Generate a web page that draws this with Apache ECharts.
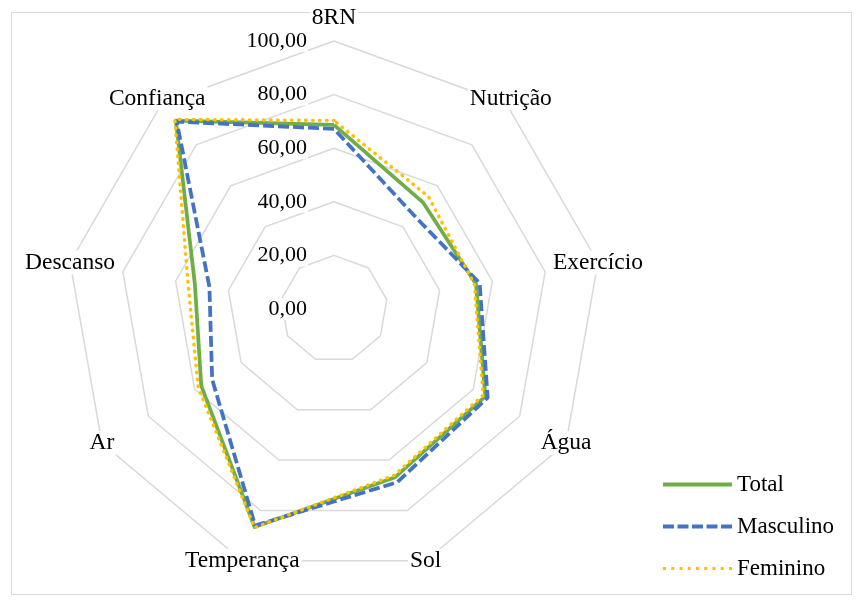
<!DOCTYPE html>
<html>
<head>
<meta charset="utf-8">
<script src="https://cdn.jsdelivr.net/npm/echarts@6.0.0/dist/echarts.min.js"></script>
<style>
html,body{margin:0;padding:0;background:#fff;}
#chart{width:858px;height:600px;}
</style>
</head>
<body>
<div id="chart"></div>
<script>
// Categories in clockwise order starting from the top
const categories = ['8RN', 'Nutrição', 'Exercício', 'Água', 'Sol', 'Temperança', 'Ar', 'Descanso', 'Confiança'];
const totalValues = [68.7, 51.8, 53.8, 65.2, 66.8, 86.6, 57.2, 52.7, 91.8];
const masculinoValues = [67.2, 46.0, 55.2, 66.2, 68.8, 86.0, 52.5, 47.2, 91.3];
const femininoValues = [70.3, 54.8, 53.2, 64.3, 66.0, 86.8, 58.5, 55.3, 92.4];
const seriesNames = ['Total', 'Masculino', 'Feminino'];
const axisMin = 0;
const axisMax = 100;
const axisSplits = 5;

const FONT = 'Liberation Serif';
const colors = { Total: '#70AD47', Masculino: '#4472C4', Feminino: '#FFC000' };

// ECharts radar goes counter-clockwise; reorder so the picture reads clockwise
const n = categories.length;
const order = categories.map((_, i) => (n - i) % n);
const reorder = arr => order.map(i => arr[i]);

const indicator = order.map(i => {
  const ind = { name: categories[i], min: axisMin, max: axisMax };
  if (i === 0) {
    ind.nameGap = 19;
    ind.axisLabel = { show: true };
  }
  if (i === 1 || i === 8) ind.nameGap = 7;
  return ind;
});

function solidIcon() { return 'path://M0,0H69V4H0Z'; }
function dashedIcon() {
  let p = 'path://';
  for (let k = 0; k < 5; k++) { const x = k * 14.5; p += 'M' + x + ',0H' + (x + 11) + 'V4H' + x + 'Z'; }
  return p;
}
function dottedIcon() {
  let p = 'path://';
  for (let k = 0; k < 9; k++) { const x = k * 8.25; p += 'M' + x + ',0.5H' + (x + 3) + 'V3.5H' + x + 'Z'; }
  p += 'M0,0H0.01V4H0Z';
  return p;
}

const chart = echarts.init(document.getElementById('chart'), null, { renderer: 'canvas' });
chart.setOption({
  animation: false,
  backgroundColor: '#fff',
  graphic: [{
    type: 'rect', left: 9, top: 10, silent: true,
    shape: { width: 840, height: 582 },
    style: { fill: 'none', stroke: '#d9d9d9', lineWidth: 1 }
  }],
  legend: {
    orient: 'vertical', left: 663, top: 473, padding: 0,
    itemWidth: 69, itemHeight: 4, itemGap: 19,
    itemStyle: { borderWidth: 0 },
    textStyle: { fontFamily: FONT, fontSize: 23, color: '#000', lineHeight: 23 },
    data: [
      { name: seriesNames[0], icon: solidIcon() },
      { name: seriesNames[1], icon: dashedIcon() },
      { name: seriesNames[2], icon: dottedIcon() }
    ]
  },
  radar: {
    center: [334, 309],
    radius: 268,
    startAngle: 90,
    shape: 'polygon',
    splitNumber: axisSplits,
    nameGap: 0,
    axisName: {
      color: '#000', fontFamily: FONT, fontSize: 23.5,
      align: 'center', verticalAlign: 'middle',
      backgroundColor: '#fff', padding: [0, 2]
    },
    axisLine: { show: false },
    axisTick: { show: false },
    axisLabel: {
      show: false, margin: 26, color: '#000', fontFamily: FONT, fontSize: 22,
      backgroundColor: '#fff', padding: [0, 1],
      formatter: v => Number(v).toFixed(2).replace('.', ',')
    },
    splitLine: { lineStyle: { color: '#d9d9d9', width: 1.5 } },
    splitArea: { show: false },
    indicator: indicator
  },
  series: [{
    type: 'radar',
    symbol: 'none',
    data: [
      { name: seriesNames[0], value: reorder(totalValues),
        itemStyle: { color: colors.Total },
        lineStyle: { color: colors.Total, width: 3.75, type: 'solid' } },
      { name: seriesNames[1], value: reorder(masculinoValues),
        itemStyle: { color: colors.Masculino },
        lineStyle: { color: colors.Masculino, width: 3.75, type: [11, 4] } },
      { name: seriesNames[2], value: reorder(femininoValues),
        itemStyle: { color: colors.Feminino },
        lineStyle: { color: colors.Feminino, width: 3.5, type: [0.5, 6.5], cap: 'round' } }
    ]
  }]
});
</script>
</body>
</html>
